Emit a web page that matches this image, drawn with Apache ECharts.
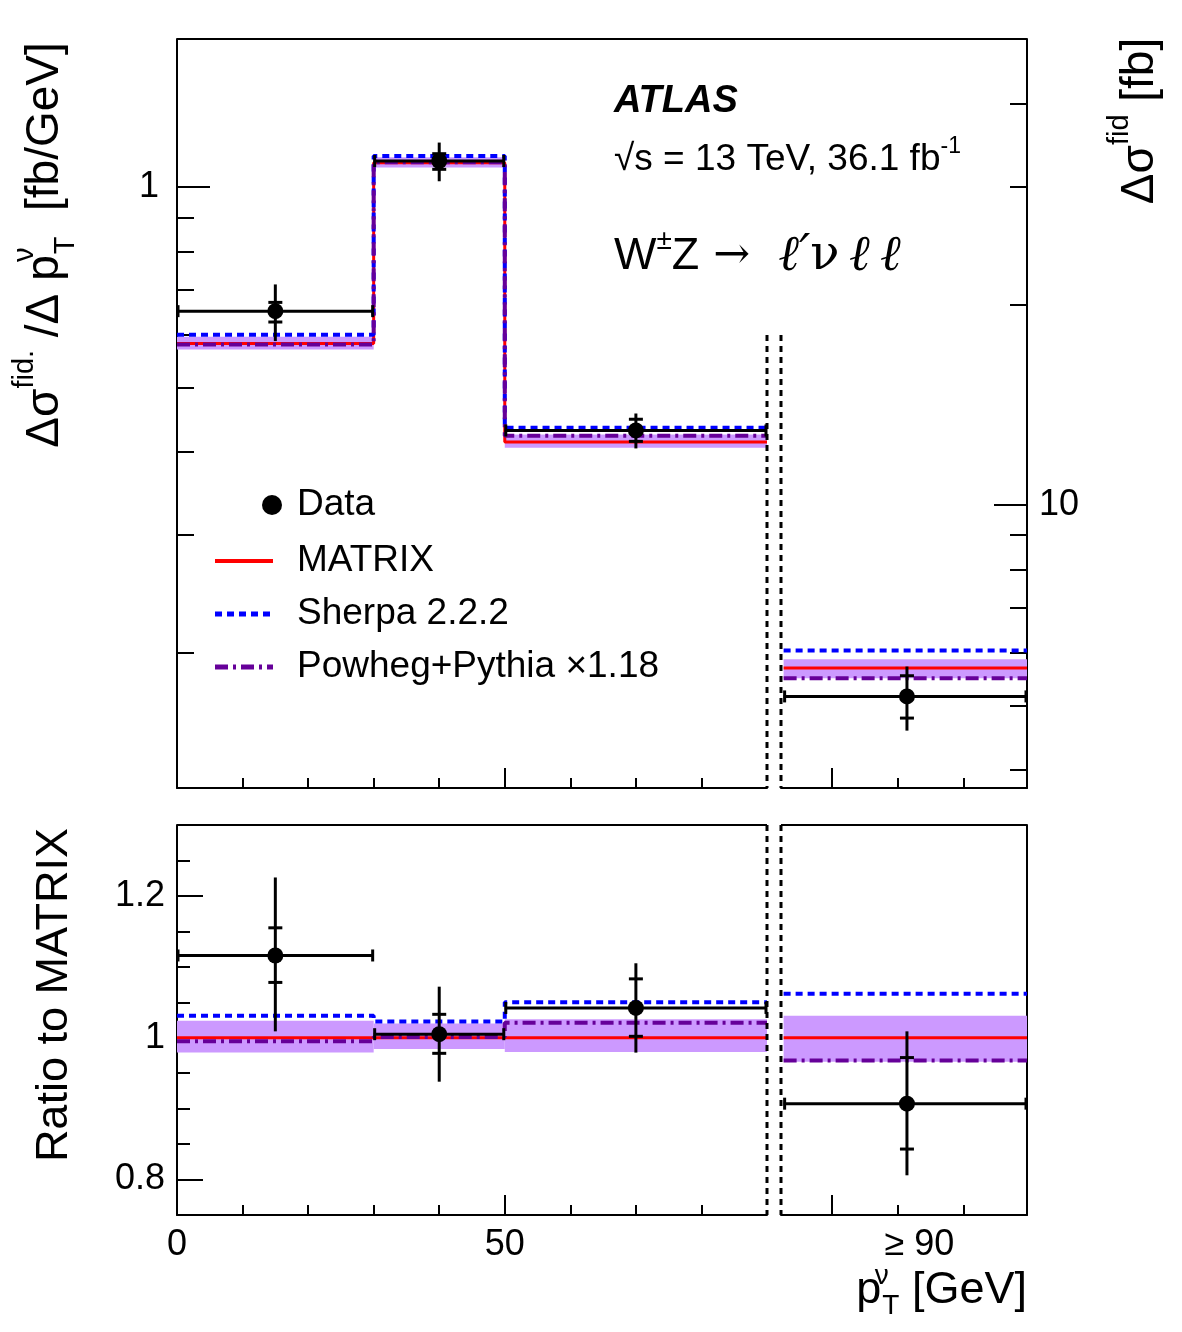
<!DOCTYPE html>
<html>
<head>
<meta charset="utf-8">
<script src="https://cdn.jsdelivr.net/npm/echarts@6/dist/echarts.min.js"></script>
<style>
html, body { margin: 0; padding: 0; background: #fff; }
#main { width: 1182px; height: 1332px; }
</style>
</head>
<body>
<div id="main"></div>
<script>
// bins of the main range and of the overflow bin (drawn in its own frame)
var binEdges = [0, 30, 50, 90];
var binCenters = [15, 40, 70];
var overEdges = [92.6, 129.7];
var overCenter = [111.4];

// upper panel, first three bins [fb/GeV]
var dataVals = [0.651, 1.094, 0.431];
var dataTotLo = [0.587, 1.020, 0.405];
var dataTotHi = [0.714, 1.166, 0.457];
var dataStatLo = [0.627, 1.063, 0.415];
var dataStatHi = [0.671, 1.122, 0.448];
var matrixVals = [0.582, 1.087, 0.414];
var matrixLo = [0.570, 1.070, 0.406];
var matrixHi = [0.596, 1.108, 0.425];
var sherpaVals = [0.600, 1.113, 0.435];
var powhegVals = [0.580, 1.089, 0.423];

// upper panel, overflow bin >= 90 GeV [fb]
var overDataVals = [5.155];
var overDataTotLo = [4.58];
var overDataTotHi = [5.716];
var overDataStatLo = [4.783];
var overDataStatHi = [5.537];
var overMatrixVals = [5.685];
var overMatrixLo = [5.49];
var overMatrixHi = [5.86];
var overSherpaVals = [6.04];
var overPowhegVals = [5.49];

// ratio panel, four bins (last one is the overflow)
var ratioData = [1.116, 1.005, 1.042, 0.907];
var ratioTotLo = [1.009, 0.938, 0.979, 0.806];
var ratioTotHi = [1.226, 1.072, 1.105, 1.009];
var ratioStatLo = [1.078, 0.978, 1.002, 0.843];
var ratioStatHi = [1.155, 1.033, 1.083, 0.972];
var ratioMatrix = [1, 1, 1, 1];
var ratioMatrixLo = [0.979, 0.984, 0.980, 0.966];
var ratioMatrixHi = [1.024, 1.020, 1.026, 1.031];
var ratioSherpa = [1.031, 1.023, 1.050, 1.062];
var ratioPowheg = [0.995, 1.001, 1.021, 0.968];

// axis ticks
var mainXMajor = [50];
var mainXMinor = [10, 20, 30, 40, 60, 70, 80];
var mainXLabels = [0, 50];
var overXMajor = [100];
var overXMinor = [110, 120];
var overXLabel = [113.3];
var leftYMajor = [1];
var leftYMinor = [0.2, 0.3, 0.4, 0.5, 0.6, 0.7, 0.8, 0.9];
var rightYMajor = [10];
var rightYMinor = [4, 5, 6, 7, 8, 9, 20, 30, 40];
var ratioYMajor = [0.8, 1, 1.2];
var ratioYMinor = [0.85, 0.9, 0.95, 1.05, 1.1, 1.15, 1.25];

var SANS = "'Liberation Sans', Arial, Helvetica, sans-serif";
var SERIF = "'DejaVu Serif', 'Liberation Serif', serif";
var RED = '#ff0000';
var BLUE = '#0000ff';
var PURPLE = '#660099';
var BAND = '#cc99ff';

// frame geometry
var X0 = 177, XS1 = 767, XS2 = 781, X1 = 1027;
var TOP_Y = 39, TOP_H = 749, BOT_Y = 825, BOT_H = 390;

function stepData(edges, vals) {
    var d = vals.map(function (v, i) { return [edges[i], v]; });
    d.push([edges[edges.length - 1], vals[vals.length - 1]]);
    return d;
}

function bandData(edges, lo, hi) {
    return lo.map(function (v, i) { return [edges[i], edges[i + 1], lo[i], hi[i]]; });
}

function pointData(xs, edges, vals, tlo, thi, slo, shi) {
    return vals.map(function (v, i) {
        return [xs[i], v, edges[i], edges[i + 1], tlo[i], thi[i], slo[i], shi[i]];
    });
}

function renderBand(params, api) {
    var a = api.coord([api.value(0), api.value(3)]);
    var b = api.coord([api.value(1), api.value(2)]);
    return {
        type: 'rect',
        shape: {x: a[0], y: a[1], width: b[0] - a[0], height: b[1] - a[1]},
        style: {fill: BAND}
    };
}

function renderPoint(params, api) {
    var c = api.coord([api.value(0), api.value(1)]);
    var l = api.coord([api.value(2), api.value(1)]);
    var r = api.coord([api.value(3), api.value(1)]);
    var tlo = api.coord([api.value(0), api.value(4)]);
    var thi = api.coord([api.value(0), api.value(5)]);
    var slo = api.coord([api.value(0), api.value(6)]);
    var shi = api.coord([api.value(0), api.value(7)]);
    var st = {stroke: '#000', lineWidth: 3};
    function seg(x1, y1, x2, y2) {
        return {type: 'line', shape: {x1: x1, y1: y1, x2: x2, y2: y2}, style: st};
    }
    return {
        type: 'group',
        children: [
            seg(l[0], c[1], r[0], c[1]),
            seg(l[0] + 1, c[1] - 6, l[0] + 1, c[1] + 6),
            seg(r[0] - 1, c[1] - 6, r[0] - 1, c[1] + 6),
            seg(c[0], thi[1], c[0], tlo[1]),
            seg(c[0] - 7, slo[1], c[0] + 7, slo[1]),
            seg(c[0] - 7, shi[1], c[0] + 7, shi[1]),
            {type: 'circle', shape: {cx: c[0], cy: c[1], r: 8}, style: {fill: '#000'}}
        ]
    };
}

var tickStyle = {color: '#000', width: 2};

function axisBase(extra) {
    var o = {
        splitLine: {show: false},
        axisLine: {show: false},
        axisLabel: {show: false},
        axisTick: {show: false}
    };
    for (var k in extra) { o[k] = extra[k]; }
    return o;
}

function ticks(values, len) {
    return {show: true, inside: true, length: len, customValues: values, lineStyle: tickStyle};
}

var solidLine = {show: true, onZero: false, lineStyle: {color: '#000', width: 2}};

var xAxes = [
    // 0,1: upper main
    axisBase({gridIndex: 0, type: 'value', position: 'bottom', min: 0, max: 90,
        axisLine: solidLine, axisTick: ticks(mainXMajor, 20)}),
    axisBase({gridIndex: 0, type: 'value', position: 'bottom', min: 0, max: 90,
        axisTick: ticks(mainXMinor, 10)}),
    // 2,3: upper overflow
    axisBase({gridIndex: 1, type: 'value', position: 'bottom', min: 92.2, max: 129.7,
        axisLine: solidLine, axisTick: ticks(overXMajor, 20)}),
    axisBase({gridIndex: 1, type: 'value', position: 'bottom', min: 92.2, max: 129.7,
        axisTick: ticks(overXMinor, 10)}),
    // 4,5: ratio main
    axisBase({gridIndex: 2, type: 'value', position: 'bottom', min: 0, max: 90,
        axisLine: solidLine, axisTick: ticks(mainXMajor, 20),
        axisLabel: {show: true, customValues: mainXLabels, margin: 12, color: '#000',
            fontSize: 36, fontFamily: SANS}}),
    axisBase({gridIndex: 2, type: 'value', position: 'bottom', min: 0, max: 90,
        axisTick: ticks(mainXMinor, 10)}),
    // 6,7: ratio overflow
    axisBase({gridIndex: 3, type: 'value', position: 'bottom', min: 92.2, max: 129.7,
        axisLine: solidLine, axisTick: ticks(overXMajor, 20),
        axisLabel: {show: true, customValues: overXLabel, margin: 12, color: '#000',
            fontSize: 36, fontFamily: SANS, formatter: function () { return '\u2265 90'; }}}),
    axisBase({gridIndex: 3, type: 'value', position: 'bottom', min: 92.2, max: 129.7,
        axisTick: ticks(overXMinor, 10)})
];

var yAxes = [
    // 0,1: upper main, fb/GeV
    axisBase({gridIndex: 0, type: 'log', position: 'left', min: 0.1252, max: 1.668,
        axisLine: solidLine, axisTick: ticks(leftYMajor, 33),
        axisLabel: {show: true, customValues: leftYMajor, margin: 18, color: '#000',
            fontSize: 36, fontFamily: SANS}}),
    axisBase({gridIndex: 0, type: 'log', position: 'left', min: 0.1252, max: 1.668,
        axisTick: ticks(leftYMinor, 17)}),
    // 2,3: upper overflow, fb
    axisBase({gridIndex: 1, type: 'log', position: 'right', min: 3.756, max: 50.04,
        axisLine: solidLine, axisTick: ticks(rightYMajor, 33),
        axisLabel: {show: true, customValues: rightYMajor, margin: 12, color: '#000',
            fontSize: 36, fontFamily: SANS}}),
    axisBase({gridIndex: 1, type: 'log', position: 'right', min: 3.756, max: 50.04,
        axisTick: ticks(rightYMinor, 17)}),
    // 4,5: ratio main
    axisBase({gridIndex: 2, type: 'value', position: 'left', min: 0.75, max: 1.3,
        axisLine: solidLine, axisTick: ticks(ratioYMajor, 26),
        axisLabel: {show: true, customValues: ratioYMajor, margin: 12, color: '#000',
            fontSize: 36, fontFamily: SANS}}),
    axisBase({gridIndex: 2, type: 'value', position: 'left', min: 0.75, max: 1.3,
        axisTick: ticks(ratioYMinor, 13)}),
    // 6: ratio overflow, right border only
    axisBase({gridIndex: 3, type: 'value', position: 'right', min: 0.75, max: 1.3,
        axisLine: solidLine})
];

function panelSeries(xi, yi, edges, centers, d) {
    return [
        {type: 'custom', xAxisIndex: xi, yAxisIndex: yi, renderItem: renderBand,
            encode: {x: [0, 1], y: [2, 3]}, data: bandData(edges, d.lo, d.hi), z: 1},
        {type: 'line', xAxisIndex: xi, yAxisIndex: yi, step: 'end', symbol: 'none',
            data: stepData(edges, d.matrix), lineStyle: {color: RED, width: 3}, z: 2},
        {type: 'line', xAxisIndex: xi, yAxisIndex: yi, step: 'end', symbol: 'none',
            data: stepData(edges, d.sherpa),
            lineStyle: {color: BLUE, width: 4, type: [7, 5]}, z: 3},
        {type: 'line', xAxisIndex: xi, yAxisIndex: yi, step: 'end', symbol: 'none',
            data: stepData(edges, d.powheg),
            lineStyle: {color: PURPLE, width: 4, type: [13, 5, 3, 5]}, z: 4},
        {type: 'custom', xAxisIndex: xi, yAxisIndex: yi, renderItem: renderPoint,
            encode: {x: 0, y: 1},
            data: pointData(centers, edges, d.vals, d.tlo, d.thi, d.slo, d.shi), z: 5}
    ];
}

var series = [].concat(
    panelSeries(0, 0, binEdges, binCenters, {
        lo: matrixLo, hi: matrixHi, matrix: matrixVals, sherpa: sherpaVals, powheg: powhegVals,
        vals: dataVals, tlo: dataTotLo, thi: dataTotHi, slo: dataStatLo, shi: dataStatHi
    }),
    panelSeries(2, 2, overEdges, overCenter, {
        lo: overMatrixLo, hi: overMatrixHi, matrix: overMatrixVals, sherpa: overSherpaVals,
        powheg: overPowhegVals, vals: overDataVals, tlo: overDataTotLo, thi: overDataTotHi,
        slo: overDataStatLo, shi: overDataStatHi
    }),
    panelSeries(4, 4, binEdges, binCenters, {
        lo: ratioMatrixLo.slice(0, 3), hi: ratioMatrixHi.slice(0, 3), matrix: ratioMatrix.slice(0, 3),
        sherpa: ratioSherpa.slice(0, 3), powheg: ratioPowheg.slice(0, 3),
        vals: ratioData.slice(0, 3), tlo: ratioTotLo.slice(0, 3), thi: ratioTotHi.slice(0, 3),
        slo: ratioStatLo.slice(0, 3), shi: ratioStatHi.slice(0, 3)
    }),
    panelSeries(6, 6, overEdges, overCenter, {
        lo: ratioMatrixLo.slice(3), hi: ratioMatrixHi.slice(3), matrix: ratioMatrix.slice(3),
        sherpa: ratioSherpa.slice(3), powheg: ratioPowheg.slice(3),
        vals: ratioData.slice(3), tlo: ratioTotLo.slice(3), thi: ratioTotHi.slice(3),
        slo: ratioStatLo.slice(3), shi: ratioStatHi.slice(3)
    })
);

// frame pieces and dashed separators
function frameLine(x1, y1, x2, y2, dashed) {
    return {
        type: 'line', silent: true, z: 50,
        shape: {x1: x1, y1: y1, x2: x2, y2: y2},
        style: {stroke: '#000', lineWidth: dashed ? 3 : 2, lineDash: dashed ? [6, 5] : null}
    };
}

function txt(x, y, text, rich, opts) {
    var el = {
        type: 'text', x: x, y: y, z: 60, silent: true,
        style: {
            text: text, rich: rich, fill: '#000',
            align: 'left', verticalAlign: 'middle',
            textAlign: 'left', textVerticalAlign: 'middle',
            font: '37px ' + SANS
        }
    };
    if (opts) {
        for (var k in opts) {
            if (k === 'style') {
                for (var s in opts.style) { el.style[s] = opts.style[s]; }
            }
            else { el[k] = opts[k]; }
        }
    }
    return el;
}

// "supw" is a zero-advance superscript so that the next subscript stacks under it
function scriptRich(size, sub, lh) {
    return {
        b: {fontSize: size, fontFamily: SANS, lineHeight: lh, verticalAlign: 'middle'},
        sup: {fontSize: sub, fontFamily: SANS, lineHeight: sub + 2, verticalAlign: 'top'},
        supw: {fontSize: sub, fontFamily: SANS, lineHeight: sub + 2, verticalAlign: 'top',
            width: 1, align: 'left'},
        sub: {fontSize: sub, fontFamily: SANS, lineHeight: sub + 2, verticalAlign: 'bottom'}
    };
}

var legendY = [505, 561, 614, 667];
var graphics = [
    frameLine(X0, TOP_Y, X1, TOP_Y),
    frameLine(X0, BOT_Y, XS1, BOT_Y),
    frameLine(XS2, BOT_Y, X1, BOT_Y),
    frameLine(XS1, 335, XS1, TOP_Y + TOP_H, true),
    frameLine(XS2, 335, XS2, TOP_Y + TOP_H, true),
    frameLine(XS1, BOT_Y, XS1, BOT_Y + BOT_H, true),
    frameLine(XS2, BOT_Y, XS2, BOT_Y + BOT_H, true),

    // legend
    {type: 'circle', z: 60, shape: {cx: 272, cy: legendY[0], r: 10}, style: {fill: '#000'}},
    {type: 'line', z: 60, shape: {x1: 215, y1: legendY[1], x2: 273, y2: legendY[1]},
        style: {stroke: RED, lineWidth: 4}},
    {type: 'line', z: 60, shape: {x1: 215, y1: legendY[2], x2: 273, y2: legendY[2]},
        style: {stroke: BLUE, lineWidth: 5, lineDash: [7, 5]}},
    {type: 'line', z: 60, shape: {x1: 215, y1: legendY[3], x2: 273, y2: legendY[3]},
        style: {stroke: PURPLE, lineWidth: 5, lineDash: [13, 5, 3, 5]}},
    txt(297, legendY[0], 'Data'),
    txt(297, legendY[1], 'MATRIX'),
    txt(297, legendY[2], 'Sherpa 2.2.2'),
    txt(297, legendY[3], 'Powheg+Pythia \u00d71.18'),

    // ATLAS label block
    txt(614, 102, 'ATLAS', null, {style: {font: 'italic bold 38px ' + SANS}}),
    txt(614, 160, '{n|\u221as = 13 TeV, 36.1 fb}{sup|-1}', {
        n: {fontSize: 37, fontFamily: SANS, lineHeight: 50, verticalAlign: 'middle'},
        sup: {fontSize: 23, fontFamily: SANS, lineHeight: 25, verticalAlign: 'top'}
    }),
    txt(614, 257, '{n|W}{sup|\u00b1}{n|Z}{ar| \u2192  }{it|\u2113\u2032}{s|\u03bd\u2009}{it|\u2113\u2009\u2113}', {
        n: {fontSize: 45, fontFamily: SANS, lineHeight: 60, verticalAlign: 'middle'},
        sup: {fontSize: 28, fontFamily: SANS, lineHeight: 30, verticalAlign: 'top'},
        ar: {fontSize: 44, fontFamily: SERIF, lineHeight: 60, verticalAlign: 'middle'},
        it: {fontSize: 50, fontFamily: SERIF, fontStyle: 'italic', lineHeight: 60, verticalAlign: 'middle'},
        s: {fontSize: 48, fontFamily: SERIF, lineHeight: 60, verticalAlign: 'middle'}
    }),

    // axis titles
    txt(45, 245, '{b|\u0394\u03c3}{sup|fid.}{b| /\u0394 p}{supw|\u03bd}{sub|T}{b|  [fb/GeV]}',
        scriptRich(46, 29, 70),
        {rotation: Math.PI / 2, style: {align: 'center', textAlign: 'center'}}),
    txt(1140, 121, '{b|\u0394\u03c3}{sup|fid}{b| [fb]}', scriptRich(46, 29, 70),
        {rotation: Math.PI / 2, style: {align: 'center', textAlign: 'center'}}),
    txt(55, 995, 'Ratio to MATRIX', null,
        {rotation: Math.PI / 2, style: {align: 'center', textAlign: 'center', font: '45px ' + SANS}}),
    txt(1027, 1291, '{b|p}{supw|\u03bd}{sub|T}{b| [GeV]}', scriptRich(45, 28, 58),
        {style: {align: 'right', textAlign: 'right'}})
];

var chart = echarts.init(document.getElementById('main'));
chart.setOption({
    animation: false,
    backgroundColor: '#fff',
    grid: [
        {left: X0, top: TOP_Y, width: XS1 - X0, height: TOP_H, outerBoundsMode: 'none'},
        {left: XS2, top: TOP_Y, width: X1 - XS2, height: TOP_H, outerBoundsMode: 'none'},
        {left: X0, top: BOT_Y, width: XS1 - X0, height: BOT_H, outerBoundsMode: 'none'},
        {left: XS2, top: BOT_Y, width: X1 - XS2, height: BOT_H, outerBoundsMode: 'none'}
    ],
    xAxis: xAxes,
    yAxis: yAxes,
    series: series,
    graphic: graphics
});
</script>
</body>
</html>
